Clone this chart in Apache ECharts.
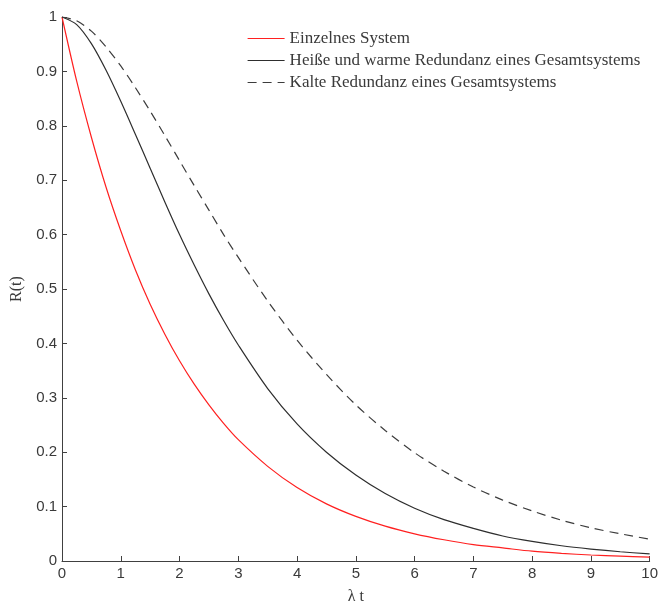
<!DOCTYPE html>
<html>
<head>
<meta charset="utf-8">
<script src="https://cdn.jsdelivr.net/npm/echarts@6/dist/echarts.min.js"></script>
<style>
  html, body { margin: 0; padding: 0; background: #fff; }
  #chart { width: 661px; height: 610px; }
</style>
</head>
<body>
<div id="chart"></div>
<script>
// λt sample points (denser where the curves bend most)
const lambdaT = [0, 0.25, 0.5, 0.75, 1, 1.25, 1.5, 1.75, 2, 2.25, 2.5, 2.75, 3, 3.5, 4, 4.5, 5, 5.5, 6, 6.5, 7, 7.5, 8, 8.5, 9, 9.5, 10];
// Reliability of a single system
const single = [1, 0.882, 0.779, 0.687, 0.607, 0.535, 0.472, 0.417, 0.368, 0.325, 0.287, 0.253, 0.223, 0.174, 0.135, 0.105, 0.082, 0.064, 0.050, 0.039, 0.030, 0.024, 0.018, 0.014, 0.011, 0.009, 0.007];
// Hot and warm redundancy of the overall system
const hotWarm = [1, 0.986, 0.951, 0.902, 0.845, 0.784, 0.722, 0.660, 0.600, 0.544, 0.491, 0.442, 0.397, 0.317, 0.252, 0.200, 0.158, 0.124, 0.097, 0.076, 0.060, 0.046, 0.036, 0.028, 0.022, 0.017, 0.013];
// Cold redundancy of the overall system
const cold = [1, 0.993, 0.974, 0.945, 0.910, 0.870, 0.827, 0.782, 0.736, 0.690, 0.645, 0.600, 0.558, 0.478, 0.406, 0.343, 0.287, 0.240, 0.199, 0.165, 0.136, 0.112, 0.092, 0.075, 0.061, 0.050, 0.040];

const seriesNames = [
  'Einzelnes System',
  'Heiße und warme Redundanz eines Gesamtsystems',
  'Kalte Redundanz eines Gesamtsystems'
];

const pairs = arr => lambdaT.map((t, i) => [t, arr[i]]);
const serif = 'Liberation Serif';
const sans = 'Liberation Sans';
const axisColor = '#404040';
const textColor = '#3a3a3a';

const chart = echarts.init(document.getElementById('chart'));
chart.setOption({
  animation: false,
  backgroundColor: '#fff',
  grid: { left: 62, right: 9, top: 17, bottom: 40 },
  legend: {
    show: true,
    orient: 'vertical',
    left: 242,
    top: 25,
    itemWidth: 37,
    itemHeight: 12,
    itemGap: 5,
    itemStyle: { opacity: 0 },
    lineStyle: { width: 1.2 },
    textStyle: { fontFamily: serif, fontSize: 17, color: textColor },
    data: seriesNames
  },
  xAxis: {
    type: 'value', min: 0, max: 10, interval: 1,
    name: 'λ t', nameLocation: 'middle', nameGap: 28,
    nameTextStyle: { fontFamily: serif, fontSize: 16, color: textColor },
    axisLine: { lineStyle: { color: axisColor } },
    axisTick: { inside: true, length: 5, lineStyle: { color: axisColor } },
    axisLabel: { fontFamily: sans, fontSize: 15, color: textColor, margin: 5 },
    splitLine: { show: false }
  },
  yAxis: {
    type: 'value', min: 0, max: 1, interval: 0.1,
    name: 'R(t)', nameLocation: 'middle', nameGap: 29, nameRotate: 90,
    nameTextStyle: { fontFamily: serif, fontSize: 16, color: textColor },
    axisLine: { show: true, lineStyle: { color: axisColor } },
    axisTick: { show: true, inside: true, length: 5, lineStyle: { color: axisColor } },
    axisLabel: { fontFamily: sans, fontSize: 15, color: textColor, margin: 5,
      formatter: v => String(Math.round(v * 10) / 10) },
    splitLine: { show: false }
  },
  series: [
    {
      name: seriesNames[0], type: 'line', data: pairs(single), smooth: 0.3,
      symbol: 'none',
      lineStyle: { color: '#ff2020', width: 1.2 }, itemStyle: { color: '#ff2020' }
    },
    {
      name: seriesNames[1], type: 'line', data: pairs(hotWarm), smooth: 0.3,
      symbol: 'none',
      lineStyle: { color: '#2e2e2e', width: 1.2 }, itemStyle: { color: '#2e2e2e' }
    },
    {
      name: seriesNames[2], type: 'line', data: pairs(cold), smooth: 0.3,
      symbol: 'none',
      lineStyle: { color: '#3c3c3c', width: 1.2, type: [9, 6] }, itemStyle: { color: '#3c3c3c' }
    }
  ]
});
</script>
</body>
</html>
